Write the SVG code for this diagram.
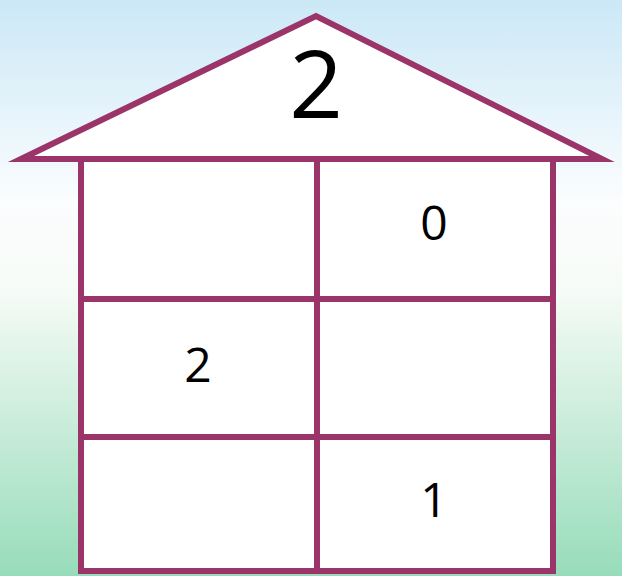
<svg xmlns="http://www.w3.org/2000/svg" width="622" height="576" viewBox="0 0 622 576">
<defs>
<linearGradient id="bg" x1="0" y1="0" x2="0" y2="1">
<stop offset="0" stop-color="#cbe8f7"/>
<stop offset="0.35" stop-color="#fbfdfe"/>
<stop offset="0.5" stop-color="#f7fbf7"/>
<stop offset="1" stop-color="#97dcba"/>
</linearGradient>
</defs>
<style>
.ln{stroke:#9b3468;stroke-width:6;fill:#fff;stroke-linejoin:miter;stroke-miterlimit:10}
.d{fill:#000;font-family:"Open Sans","Liberation Sans",sans-serif;text-anchor:middle}
</style>
<rect width="622" height="576" fill="url(#bg)"/>
<g id="roof">
<polygon class="ln" points="21,159 316,16 602,159"/>
<text class="d" x="316" y="118" font-size="94">2</text>
</g>
<g id="body">
<rect class="ln" x="81" y="159" width="472" height="412"/>
</g>
<g id="connectors">
<line class="ln" x1="317" y1="159" x2="317" y2="571"/>
<line class="ln" x1="81" y1="299" x2="553" y2="299"/>
<line class="ln" x1="81" y1="437" x2="553" y2="437"/>
</g>
<g id="cell-0"><text class="d" x="434" y="240" font-size="48">0</text></g>
<g id="cell-2"><text class="d" x="198" y="382" font-size="48">2</text></g>
<g id="cell-1"><text class="d" x="434" y="517" font-size="48">1</text></g>
</svg>
